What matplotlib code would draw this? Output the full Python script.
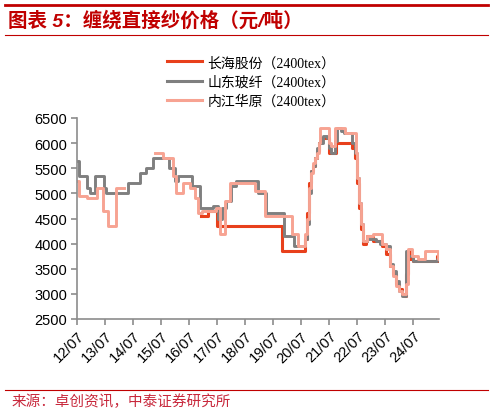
import numpy as np
import matplotlib.pyplot as plt
from matplotlib.lines import Line2D

# 长海股份 (2400tex)
t_red = [2016.93, 2017.18, 2017.50, 2019.82, 2020.64, 2020.71, 2020.79, 2020.86, 2020.93,
         2021.00, 2021.07, 2021.14, 2021.21, 2021.50, 2021.75, 2022.32, 2022.43, 2022.50,
         2022.57, 2022.64, 2022.71, 2022.82, 2022.86, 2023.07, 2023.39, 2023.54, 2023.68,
         2023.79, 2023.89, 2024.00, 2024.11, 2024.18, 2024.25, 2024.32, 2024.39, 2024.50,
         2025.36, 2025.43, 2025.46]
v_red = [4550, 4650, 4350, 3850, 4100, 4600, 5200, 5450, 5550,
         5700, 5850, 6000, 6100, 5800, 6000, 5900, 5700, 5200,
         4700, 4300, 4000, 4050, 4150, 4050, 3950, 3800, 3550,
         3400, 3200, 3100, 3000, 2950, 3400, 3850, 3700, 3650,
         3750, 3650, 3650]

# 山东玻纤 (2400tex)
t_gray = [2012.50, 2012.57, 2012.86, 2012.96, 2013.14, 2013.46, 2013.54, 2014.32, 2014.75,
          2014.96, 2015.21, 2015.79, 2016.00, 2016.11, 2016.61, 2016.89, 2017.36, 2017.54,
          2017.68, 2017.82, 2018.00, 2018.18, 2018.96, 2019.25, 2019.89, 2020.25, 2020.64,
          2020.71, 2020.79, 2020.86, 2020.93, 2021.00, 2021.07, 2021.14, 2021.21, 2021.29,
          2021.43, 2021.50, 2021.57, 2021.71, 2021.79, 2021.93, 2022.04, 2022.32, 2022.43,
          2022.50, 2022.57, 2022.64, 2022.71, 2022.86, 2023.18, 2023.32, 2023.54, 2023.68,
          2023.79, 2023.89, 2024.00, 2024.11, 2024.25, 2024.32, 2024.50, 2025.36, 2025.46]
v_gray = [5650, 5350, 5100, 5000, 5350, 5100, 5000, 5200, 5400,
          5500, 5700, 5500, 5250, 5350, 5150, 4700, 4750, 4500,
          4700, 4850, 5150, 5250, 5000, 4600, 4150, 3950, 4100,
          4400, 5000, 5450, 5550, 5700, 5900, 6000, 6000, 6150,
          6100, 5900, 5800, 6050, 6300, 6250, 6200, 6000, 5800,
          5300, 4800, 4400, 4050, 4100, 4050, 4000, 3950, 3600,
          3450, 3250, 3050, 2950, 3850, 3750, 3650, 3700, 3700]

# 内江华原 (2400tex), gap between 2014.18 and 2015.29
t_pink = [2012.50, 2012.57, 2012.86, 2013.21, 2013.43, 2013.61, 2013.89, 2014.18,
          2015.29, 2015.57, 2015.93, 2016.04, 2016.29, 2016.54, 2016.71, 2016.82, 2016.96,
          2017.46, 2017.61, 2017.79, 2017.96, 2018.86, 2019.21, 2020.18, 2020.39, 2020.64,
          2020.71, 2020.79, 2020.86, 2020.93, 2021.00, 2021.07, 2021.14, 2021.18, 2021.50,
          2021.57, 2021.71, 2022.07, 2022.46, 2022.50, 2022.57, 2022.64, 2022.71, 2022.86,
          2023.07, 2023.39, 2023.54, 2023.68, 2023.79, 2023.89, 2024.00, 2024.11, 2024.25,
          2024.32, 2024.46, 2024.68, 2024.93, 2025.39, 2025.46]
v_pink = [5250, 4950, 4900, 5100, 4650, 4350, 5100, np.nan,
          5800, 5700, 5350, 5000, 5200, 5100, 4900, 4600, 4650,
          4700, 4200, 4850, 5200, 5050, 4550, 4200, 3950, 4200,
          4500, 5100, 5400, 5600, 5700, 5800, 6000, 6300, 6000,
          5950, 6300, 6200, 5800, 5300, 4800, 4400, 4050, 4150,
          4200, 4000, 3900, 3550, 3350, 3150, 3050, 3000, 3200,
          3900, 3750, 3700, 3850, 3700, 3700]

tick_pos = [2012.5 + k for k in range(13)]
tick_labels = ["%02d/07" % (12 + k) for k in range(13)]

RED = "#E8401C"
GRAY = "#7F7F7F"
PINK = "#F7A392"
TITLE_RED = "#C00000"

fig = plt.figure(figsize=(4.93, 4.14), dpi=100)
ax = fig.add_axes([77 / 493, 1 - 320 / 414, (439 - 77) / 493, (320 - 119) / 414])

ax.plot(t_red, v_red, drawstyle="steps-post", color=RED, lw=2.2)
ax.plot(t_gray, v_gray, drawstyle="steps-post", color=GRAY, lw=2.1)
ax.plot(t_pink, v_pink, drawstyle="steps-post", color=PINK, lw=2.1)

ax.set_xlim(2012.5, 2025.43)
ax.set_ylim(2500, 6500)
ax.set_yticks(range(2500, 7000, 500))
ax.set_xticks(tick_pos)
ax.set_xticklabels(tick_labels, rotation=45, ha="right", rotation_mode="anchor")
for lab in ax.get_xticklabels() + ax.get_yticklabels():
    lab.set_family("Liberation Sans")
    lab.set_fontsize(10.5)
ax.spines["top"].set_visible(False)
ax.spines["right"].set_visible(False)
for s in ["left", "bottom"]:
    ax.spines[s].set_color("#8C8C8C")
    ax.spines[s].set_linewidth(1.2)
ax.tick_params(color="#8C8C8C", length=4, width=1.2, pad=3)

handles = [Line2D([], [], color=RED, lw=2.2),
           Line2D([], [], color=GRAY, lw=2.2),
           Line2D([], [], color=PINK, lw=2.2)]
labels = ["长海股份（2400tex）", "山东玻纤（2400tex）", "内江华原（2400tex）"]
fig.legend(handles, labels, loc="upper left", bbox_to_anchor=(160 / 493, 1 - 50 / 414),
           frameon=False, borderpad=0, handlelength=2.5, handletextpad=0.4,
           labelspacing=0.42,
           prop={"family": ["Liberation Serif", "Noto Sans CJK SC"], "size": 10})

# header / footer lines
fig.add_artist(Line2D([5 / 493, 488 / 493], [1 - 6 / 414] * 2, color=TITLE_RED, lw=2))
fig.add_artist(Line2D([5 / 493, 488 / 493], [1 - 36 / 414] * 2, color=TITLE_RED, lw=0.8))
fig.add_artist(Line2D([5 / 493, 488 / 493], [1 - 391 / 414] * 2, color=TITLE_RED, lw=0.8))

fig.text(8 / 493, 1 - 21 / 414, "图表 5：缠绕直接纱价格（元/吨）", color=TITLE_RED,
         fontsize=14, fontweight="bold", style="italic", va="center",
         family=["Liberation Sans", "Noto Sans CJK SC"])
fig.text(12 / 493, 1 - 402 / 414, "来源：卓创资讯，中泰证券研究所", color="#C8283C",
         fontsize=10.5, va="center", family=["Noto Sans CJK SC"])

fig.savefig("out.png", dpi=100)
